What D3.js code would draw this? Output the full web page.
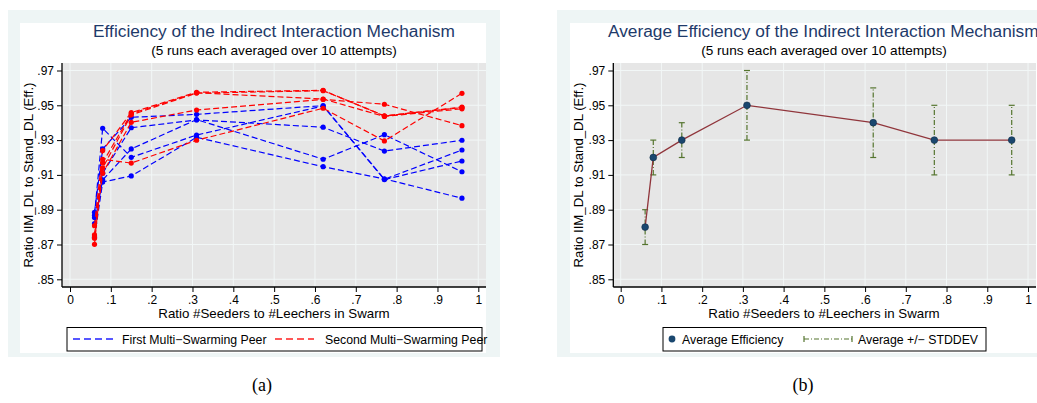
<!DOCTYPE html>
<html>
<head>
<meta charset="utf-8">
<script src="https://cdn.jsdelivr.net/npm/d3@7"></script>
<style>
  body { margin: 0; background: #fff; }
  svg { display: block; font-family: "Liberation Sans", Arial, sans-serif; }
  .tick text { font-size: 12px; fill: #000; }
  .tick line { stroke: #000; }
</style>
</head>
<body>
<script>
// seeder/leecher ratios used in every run
var ratios = [0.06, 0.08, 0.15, 0.31, 0.62, 0.77, 0.96];

// (a) first multi-swarming peer, 5 runs
var firstPeer = [
  [0.8885, 0.9249, 0.9431, 0.9448, 0.9498, 0.9075, 0.9243],
  [0.8868, 0.9368, 0.9201, 0.9329, 0.9496, 0.9073, 0.9180],
  [0.8855, 0.9110, 0.9371, 0.9416, 0.9374, 0.9237, 0.9299],
  [0.8820, 0.9071, 0.9249, 0.9418, 0.9190, 0.9331, 0.9118],
  [0.8741, 0.9059, 0.9094, 0.9316, 0.9147, 0.9077, 0.8966]
];
// (a) second multi-swarming peer, 5 runs
var secondPeer = [
  [0.8808, 0.9240, 0.9458, 0.9575, 0.9586, 0.9438, 0.9490],
  [0.8755, 0.9170, 0.9452, 0.9572, 0.9536, 0.9436, 0.9480],
  [0.8745, 0.9140, 0.9445, 0.9570, 0.9584, 0.9440, 0.9487],
  [0.8736, 0.9110, 0.9402, 0.9473, 0.9534, 0.9506, 0.9383],
  [0.8701, 0.9190, 0.9168, 0.9299, 0.9483, 0.9295, 0.9569]
];

// (b) average and +/- one standard deviation
var avgEff = [0.88, 0.92, 0.93, 0.95, 0.94, 0.93, 0.93];
var sdLow  = [0.87, 0.91, 0.92, 0.93, 0.92, 0.91, 0.91];
var sdHigh = [0.89, 0.93, 0.94, 0.97, 0.96, 0.95, 0.95];

var yTicks = [0.85, 0.87, 0.89, 0.91, 0.93, 0.95, 0.97];
var xTicks = [0, 0.1, 0.2, 0.3, 0.4, 0.5, 0.6, 0.7, 0.8, 0.9, 1];

var W = 1037, H = 403;
var titleColor = "#1e3a6a";

var svg = d3.select("body").append("svg")
  .attr("width", W).attr("height", H);

function noZero(v) {
  if (v === 0) return "0";
  if (v === 1) return "1";
  return String(+v.toFixed(2)).replace(/^0\./, ".");
}

// draws the frame, grid and axes of one panel, returns scales
function panel(p) {
  var g = svg.append("g");
  g.append("rect").attr("x", p.ox).attr("y", 10).attr("width", p.ow).attr("height", 347)
    .attr("fill", "#eef5f5");
  g.append("rect").attr("x", p.ix).attr("y", 23).attr("width", p.iw).attr("height", 330)
    .attr("fill", "#fff");
  g.append("rect").attr("x", p.left).attr("y", 63).attr("width", p.right - p.left).attr("height", 224)
    .attr("fill", "#e6e6e6");

  var x = d3.scaleLinear().domain([0, 1]).range([p.x0, p.x1]);
  var y = d3.scaleLinear().domain([0.85, 0.97]).range([279.3, 70.5]);

  g.selectAll(".hg").data(yTicks).enter().append("line")
    .attr("x1", p.left).attr("x2", p.right)
    .attr("y1", d => y(d)).attr("y2", d => y(d))
    .attr("stroke", "#f2f7f7").attr("stroke-width", 1);
  g.selectAll(".vg").data(xTicks).enter().append("line")
    .attr("y1", 63).attr("y2", 287)
    .attr("x1", d => x(d)).attr("x2", d => x(d))
    .attr("stroke", "#f2f7f7").attr("stroke-width", 1);

  var ya = g.append("g").attr("transform", "translate(" + p.left + ",0)")
    .call(d3.axisLeft(y).tickValues(yTicks).tickSize(5).tickPadding(3).tickFormat(noZero));
  ya.select(".domain").remove();
  var xa = g.append("g").attr("transform", "translate(0,287)")
    .call(d3.axisBottom(x).tickValues(xTicks).tickSize(5).tickPadding(3).tickFormat(noZero));
  xa.select(".domain").remove();

  g.append("line").attr("x1", p.left).attr("x2", p.left).attr("y1", 63).attr("y2", 287)
    .attr("stroke", "#000").attr("stroke-width", 1.3);
  g.append("line").attr("x1", p.left).attr("x2", p.right).attr("y1", 287).attr("y2", 287)
    .attr("stroke", "#000").attr("stroke-width", 1.3);

  // titles
  g.append("text").attr("x", p.tx).attr("y", 37).attr("text-anchor", p.tanchor)
    .attr("font-size", 17.3).attr("fill", titleColor).text(p.title);
  g.append("text").attr("x", p.cx).attr("y", 54.5).attr("text-anchor", "middle")
    .attr("font-size", 13.6).text("(5 runs each averaged over 10 attempts)");
  g.append("text").attr("x", p.cx).attr("y", 317.5).attr("text-anchor", "middle")
    .attr("font-size", 13.3).text("Ratio #Seeders to #Leechers in Swarm");
  g.append("text").attr("transform", "translate(" + p.yl + ",175) rotate(-90)")
    .attr("text-anchor", "middle").attr("font-size", 13.2)
    .text("Ratio IIM_DL to Stand_DL (Eff.)");

  // legend box
  g.append("rect").attr("x", p.lx).attr("y", 327.5).attr("width", p.lw).attr("height", 23.5)
    .attr("fill", "#fff").attr("stroke", "#000").attr("stroke-width", 1);

  return { g: g, x: x, y: y };
}

// ---------- (a) ----------
var A = panel({
  ox: 8, ow: 492, ix: 20, iw: 466, left: 62, right: 486, x0: 70, x1: 478.3,
  tx: 274, tanchor: "middle", cx: 274, yl: 33,
  title: "Efficiency of the Indirect Interaction Mechanism",
  lx: 67, lw: 415
});

var lineA = d3.line().x((d, i) => A.x(ratios[i])).y(d => A.y(d));

function runs(data, color) {
  data.forEach(function (run) {
    A.g.append("path").datum(run).attr("d", lineA)
      .attr("fill", "none").attr("stroke", color).attr("stroke-width", 1.2)
      .attr("stroke-dasharray", "6,3");
    A.g.selectAll(null).data(run).enter().append("circle")
      .attr("cx", (d, i) => A.x(ratios[i])).attr("cy", d => A.y(d))
      .attr("r", 2.6).attr("fill", color);
  });
}
runs(firstPeer, "#0000ff");
runs(secondPeer, "#ff0000");

A.g.append("line").attr("x1", 73).attr("x2", 113).attr("y1", 339).attr("y2", 339)
  .style("stroke", "#2020ff").style("stroke-width", 1.4).style("stroke-dasharray", "7,4");
A.g.append("text").attr("x", 122).attr("y", 344).attr("font-size", 12.3)
  .text("First Multi\u2212Swarming Peer");
A.g.append("line").attr("x1", 275).attr("x2", 314).attr("y1", 339).attr("y2", 339)
  .style("stroke", "#ff2020").style("stroke-width", 1.4).style("stroke-dasharray", "7,4");
A.g.append("text").attr("x", 325).attr("y", 344).attr("font-size", 12.3)
  .text("Second Multi\u2212Swarming Peer");

// ---------- (b) ----------
var B = panel({
  ox: 557, ow: 490, ix: 570, iw: 480, left: 613.3, right: 1036, x0: 620.7, x1: 1028,
  tx: 608, tanchor: "start", cx: 824, yl: 583,
  title: "Average Efficiency of the Indirect Interaction Mechanism",
  lx: 663, lw: 323
});

var green = "#55752f";
ratios.forEach(function (r, i) {
  var xp = B.x(r);
  B.g.append("line").attr("x1", xp).attr("x2", xp)
    .attr("y1", B.y(sdLow[i])).attr("y2", B.y(sdHigh[i]))
    .attr("stroke", green).attr("stroke-width", 1.2).attr("stroke-dasharray", "5,2,1,2");
  [sdLow[i], sdHigh[i]].forEach(function (v) {
    B.g.append("line").attr("x1", xp - 3).attr("x2", xp + 3)
      .attr("y1", B.y(v)).attr("y2", B.y(v))
      .attr("stroke", green).attr("stroke-width", 1.2);
  });
});

B.g.append("path").datum(avgEff)
  .attr("d", d3.line().x((d, i) => B.x(ratios[i])).y(d => B.y(d)))
  .attr("fill", "none").attr("stroke", "#90353b").attr("stroke-width", 1.3);
B.g.selectAll(null).data(avgEff).enter().append("circle")
  .attr("cx", (d, i) => B.x(ratios[i])).attr("cy", d => B.y(d))
  .attr("r", 3.4).attr("fill", "#1a476f").attr("stroke", "#0f2c47").attr("stroke-width", 0.6);

B.g.append("circle").attr("cx", 672).attr("cy", 339).attr("r", 3.4).attr("fill", "#1a476f");
B.g.append("text").attr("x", 682).attr("y", 344).attr("font-size", 12.3).text("Average Efficiency");
B.g.append("line").attr("x1", 804).attr("x2", 852).attr("y1", 339).attr("y2", 339)
  .attr("stroke", green).attr("stroke-width", 1.2).attr("stroke-dasharray", "5,2,1,2");
[804, 852].forEach(function (xx) {
  B.g.append("line").attr("x1", xx).attr("x2", xx).attr("y1", 336).attr("y2", 342)
    .attr("stroke", green).attr("stroke-width", 1.2);
});
B.g.append("text").attr("x", 858).attr("y", 344).attr("font-size", 12.3)
  .text("Average +/\u2212 STDDEV");

// captions
svg.append("text").attr("x", 262).attr("y", 391).attr("text-anchor", "middle")
  .attr("font-family", "Liberation Serif, Times New Roman, serif").attr("font-size", 18).text("(a)");
svg.append("text").attr("x", 803).attr("y", 391).attr("text-anchor", "middle")
  .attr("font-family", "Liberation Serif, Times New Roman, serif").attr("font-size", 18).text("(b)");
</script>
</body>
</html>
